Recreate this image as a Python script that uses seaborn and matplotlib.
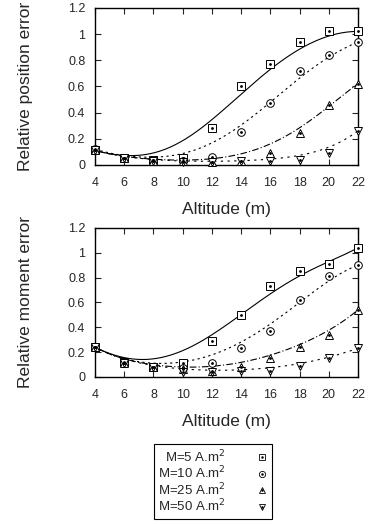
import numpy as np
import pandas as pd
import matplotlib
matplotlib.use('Agg')
import matplotlib.pyplot as plt
from matplotlib.ticker import FuncFormatter, MultipleLocator
from matplotlib.lines import Line2D
from math import comb
import seaborn as sns

# Datos
altitud = [4, 6, 8, 10, 12, 14, 16, 18, 20, 22]
momentos = ['M=5 A.m$^2$', 'M=10 A.m$^2$', 'M=25 A.m$^2$', 'M=50 A.m$^2$']

pos_m5 = [0.11, 0.05, 0.04, 0.05, 0.28, 0.60, 0.77, 0.94, 1.02, 1.02]
pos_m10 = [0.12, 0.05, 0.04, 0.03, 0.06, 0.25, 0.47, 0.72, 0.84, 0.94]
pos_m25 = [0.11, 0.05, 0.03, 0.03, 0.02, 0.03, 0.09, 0.24, 0.46, 0.62]
pos_m50 = [0.11, 0.05, 0.03, 0.02, 0.02, 0.03, 0.03, 0.04, 0.09, 0.26]

mom_m5 = [0.24, 0.12, 0.08, 0.11, 0.29, 0.50, 0.73, 0.85, 0.91, 1.04]
mom_m10 = [0.24, 0.11, 0.08, 0.07, 0.11, 0.23, 0.37, 0.62, 0.81, 0.90]
mom_m25 = [0.24, 0.11, 0.08, 0.06, 0.05, 0.08, 0.15, 0.24, 0.34, 0.54]
mom_m50 = [0.24, 0.11, 0.08, 0.04, 0.04, 0.05, 0.05, 0.09, 0.15, 0.23]

MARCADORES = ['s', 'o', '^', 'v']
ESTILOS = ['-', (0, (2, 3)), (0, (6, 2, 1, 2)), (0, (2, 4))]


def bezier(xs, ys, n=200):
    # suavizado tipo "smooth bezier" de gnuplot a partir de los puntos
    xs, ys = np.asarray(xs, float), np.asarray(ys, float)
    k = len(xs) - 1
    t = np.linspace(0, 1, n)
    w = np.array([comb(k, i) * t**i * (1 - t)**(k - i) for i in range(k + 1)])
    return w.T @ xs, w.T @ ys


sns.set_style('ticks')
plt.rcParams['font.family'] = ['Liberation Sans', 'DejaVu Sans']
plt.rcParams['xtick.direction'] = 'in'
plt.rcParams['ytick.direction'] = 'in'

fig = plt.figure(figsize=(3.69, 5.25), dpi=100)
ax1 = fig.add_axes([0.2575, 0.686, 0.7125, 0.299])
ax2 = fig.add_axes([0.2575, 0.282, 0.7125, 0.284])

paneles = [
    (ax1, [pos_m5, pos_m10, pos_m25, pos_m50], 'Relative position error'),
    (ax2, [mom_m5, mom_m10, mom_m25, mom_m50], 'Relative moment error'),
]

for ax, series, ylabel in paneles:
    for vals, mk, ls in zip(series, MARCADORES, ESTILOS):
        bx, by = bezier(altitud, vals)
        sns.lineplot(x=bx, y=by, sort=False, estimator=None, ax=ax,
                     color='black', lw=0.8, linestyle=ls)
        ax.plot(altitud, vals, linestyle='none', marker=mk, ms=5.5, mfc='white',
                mec='black', mew=0.7, clip_on=False, zorder=5)
        ax.plot(altitud, vals, linestyle='none', marker='o', ms=1.0, color='black',
                clip_on=False, zorder=6)
    ax.set_xlim(4, 22)
    ax.set_ylim(0, 1.2)
    ax.xaxis.set_major_locator(MultipleLocator(2))
    ax.yaxis.set_major_locator(MultipleLocator(0.2))
    ax.yaxis.set_major_formatter(FuncFormatter(lambda v, p: f'{v:g}'))
    ax.tick_params(axis='x', pad=9)
    ax.tick_params(top=True, right=True, length=4, width=0.8, labelsize=9)
    ax.tick_params(axis='y', pad=7)
    for s in ax.spines.values():
        s.set_visible(True)
        s.set_linewidth(1.0)
        s.set_color('black')
    ax.set_xlabel('Altitude (m)', fontsize=12.5, labelpad=9)
    ax.set_ylabel(ylabel, fontsize=12.5)
    ax.yaxis.set_label_coords(-0.235, 0.5)

# Leyenda
handles = []
for mk in MARCADORES:
    h1 = Line2D([], [], linestyle='none', marker=mk, ms=4.5, mfc='white', mec='black', mew=0.6)
    h2 = Line2D([], [], linestyle='none', marker='o', ms=0.8, color='black')
    handles.append((h1, h2))
leg = fig.legend(handles, momentos, loc='center', bbox_to_anchor=(0.576, 0.083),
                 markerfirst=False, fontsize=9.5, frameon=True, fancybox=False,
                 edgecolor='black', framealpha=1, handlelength=0.8, handletextpad=2.4,
                 labelspacing=0.0, borderpad=0.3)
leg.get_frame().set_linewidth(0.8)

plt.savefig('out.png', dpi=100)
plt.close()
